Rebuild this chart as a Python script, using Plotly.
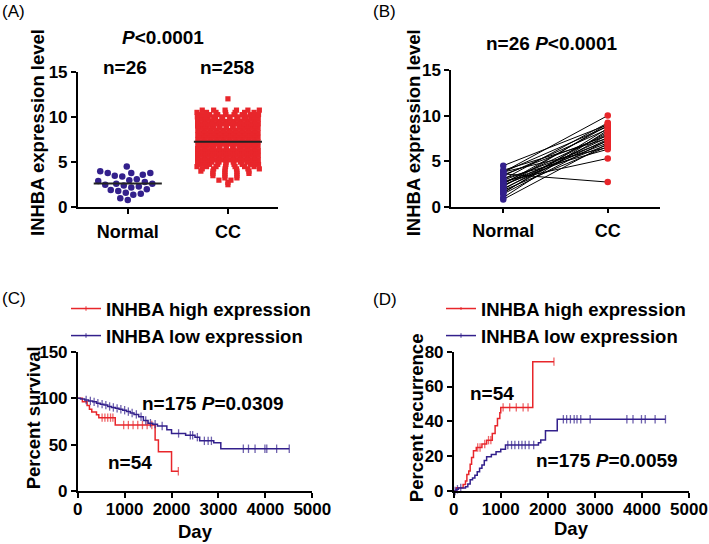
import numpy as np
import plotly.graph_objects as go

W, H = 709, 544
FONT = "Liberation Sans"
RED = "#E8262B"
PURPLE = "#33208C"

# ---------------- data ----------------
categories = ["Normal", "CC"]

# Panel A: normal tissue expression (n=26)
normal_a = [4.5, 4.0, 3.8, 3.8, 3.8, 3.6, 3.5, 3.4, 3.1, 3.0, 2.9, 2.8, 2.6,
            2.6, 2.5, 2.4, 2.3, 2.2, 2.0, 1.9, 1.8, 1.6, 1.5, 1.4, 1.0, 0.8]
# Panel A: cervical cancer expression (n=258), read as rows of the scatter column
cc_levels = [2.5, 2.75, 3.0, 3.25, 3.5, 3.75, 4.0, 4.25, 4.5, 4.75,
             5.0, 5.25, 5.5, 5.75, 6.0, 6.25, 6.5,
             6.75, 7.0, 7.25, 7.5, 7.75,
             8.0, 8.25, 8.5, 8.75, 9.0,
             9.25, 9.5, 9.75, 10.0, 10.25, 10.5, 10.75, 12.0]
cc_counts = [1, 1, 2, 2, 3, 4, 5, 6, 7, 8,
             9, 9, 9, 9, 9, 9, 9,
             10, 10, 10, 10, 10,
             10, 10, 10, 10, 9,
             9, 9, 9, 8, 8, 7, 6, 1]
cc_a = [lv for lv, n in zip(cc_levels, cc_counts) for _ in range(n)]

# Panel B: paired samples (n=26)
paired_normal = [4.5, 4.0, 3.8, 3.8, 3.8, 3.6, 3.5, 3.4, 3.1, 3.0, 2.9, 2.8, 2.6,
                 2.6, 2.5, 2.4, 2.3, 2.2, 2.0, 1.9, 1.8, 1.6, 1.5, 1.4, 1.0, 0.8]
paired_cc = [9.0, 7.5, 8.8, 10.0, 6.5, 2.7, 7.8, 8.5, 6.3, 9.2, 7.2, 5.3, 8.0,
             7.0, 8.9, 6.8, 7.6, 9.1, 7.4, 8.2, 6.6, 7.9, 8.6, 7.3, 8.4, 6.9]

# Panel C: overall survival (Kaplan-Meier)
c_high_t = [0, 100, 200, 250, 300, 400, 450, 800, 1650, 1720, 2000]
c_high_s = [100, 96, 92, 88, 85, 82, 79, 71, 55, 42.3, 21.2]
c_high_cens = [520, 580, 640, 700, 750, 980, 1080, 1180, 1280, 1380, 1480, 1580, 2145]
c_low_t = [0, 60, 150, 230, 320, 400, 480, 560, 640, 720, 800, 880, 960, 1040,
           1120, 1200, 1300, 1400, 1500, 1600, 1700, 1900, 2000, 2300, 2500,
           2600, 2900, 3050]
c_low_s = [100, 99, 98, 97, 96, 94.5, 93.5, 92.5, 91, 90, 89, 88, 87, 85.5,
           84, 82.5, 80, 76, 73, 72, 70, 66, 62, 60, 58, 54, 52, 45.5]
c_low_cens = [180, 270, 350, 430, 520, 600, 680, 760, 840, 920, 1000, 1080,
              1160, 1250, 1350, 1450, 1550, 1650, 1800, 2150, 2400, 2450, 2550,
              2700, 2780, 2850, 3530, 3640, 3780, 3990, 4030, 4240, 4509]

# Panel D: recurrence (cumulative)
d_high_t = [0, 60, 200, 250, 280, 320, 350, 380, 420, 480, 600, 700, 820, 880,
            930, 980, 1000, 1680]
d_high_v = [0, 1.9, 3.8, 5.7, 9.5, 11.5, 15.4, 19.2, 23.1, 25, 27, 29.2, 33,
            37.5, 41.7, 45, 48, 74.3]
d_high_cens = [510, 560, 660, 740, 790, 1050, 1190, 1330, 1475, 1580, 2130]
d_low_t = [0, 50, 100, 250, 300, 350, 400, 450, 500, 550, 600, 650, 700, 800,
           900, 1000, 1100, 1800, 1850, 1950, 2200]
d_low_v = [0, 1, 1.7, 2.5, 4, 6.5, 7.5, 9, 11, 13, 15, 17.5, 19.7, 21, 22.6,
           24, 26.4, 27.7, 29.3, 34.6, 41.2]
d_low_cens = [30, 80, 150, 1150, 1230, 1300, 1380, 1450, 1520, 1600, 1700,
              2330, 2400, 2480, 2560, 2620, 2700, 2900, 3680, 3810, 3990, 4070,
              4280, 4500]


# ---------------- helpers ----------------
def swarm(values, center, d_px, px_per_x, px_per_y):
    vals = np.asarray(values, float)
    order = np.argsort(vals, kind="stable")
    placed = []
    offs = np.zeros(len(vals))
    for j, i in enumerate(order):
        y = vals[i] * px_per_y
        best = None
        k = 0
        while best is None:
            signs = [1] if k == 0 else ([1, -1] if j % 2 == 0 else [-1, 1])
            for sg in signs:
                x = sg * k * 0.5
                ok = True
                for (px, py) in placed:
                    if abs(py - y) < d_px and (px - x) ** 2 + (py - y) ** 2 < d_px ** 2:
                        ok = False
                        break
                if ok:
                    best = x
                    break
            k += 1
        placed.append((best, y))
        offs[i] = best / px_per_x
    return center + offs


def row_layout(levels, counts, center, width_px, max_step_px, px_per_x):
    xs = []
    for r, n in enumerate(counts):
        if n == 1:
            xs.append(center)
            continue
        step = min(width_px / (n - 1), max_step_px)
        shift = step / 4 if r % 2 else -step / 4
        for i in range(n):
            off = (i - (n - 1) / 2) * step + shift
            xs.append(center + off / px_per_x)
    return xs


def km_trace(times, vals, cens, color, name, xa, ya, legend, showlegend=True):
    pts = {}
    for t, v in zip(times, vals):
        pts[t] = (v, 0)
    for c in cens:
        idx = max(i for i, t in enumerate(times) if t <= c)
        pts[c] = (vals[idx], 6)
    ts = sorted(pts)
    return go.Scatter(
        x=ts, y=[pts[t][0] for t in ts], mode="lines+markers",
        line=dict(color=color, width=1.5, shape="hv"),
        marker=dict(symbol="line-ns", size=[pts[t][1] for t in ts],
                    line=dict(color=color, width=1.3), color=color),
        name=name, xaxis=xa, yaxis=ya, legend=legend, showlegend=showlegend,
        cliponaxis=False)


def px_x(p):
    return p / W


def px_y(p):
    return 1 - p / H


fig = go.Figure()

# ---------------- Panel A ----------------
xA = {"Normal": 0, "CC": 1}
nx = swarm(normal_a, xA["Normal"], 7.5, 100.0, 9.04)
cx = row_layout(cc_levels, cc_counts, xA["CC"], 57.0, 12.0, 100.0)
fig.add_trace(go.Scatter(x=nx, y=normal_a, mode="markers",
                         marker=dict(color=PURPLE, size=6.5, symbol="circle"),
                         xaxis="x", yaxis="y", showlegend=False, cliponaxis=False))
fig.add_trace(go.Scatter(x=cx, y=cc_a, mode="markers",
                         marker=dict(color=RED, size=5.2, symbol="square"),
                         xaxis="x", yaxis="y", showlegend=False, cliponaxis=False))
for cat, vals in (("Normal", normal_a), ("CC", cc_a)):
    m = float(np.mean(vals))
    fig.add_trace(go.Scatter(x=[xA[cat] - 0.34, xA[cat] + 0.34], y=[m, m],
                             mode="lines", line=dict(color="#222222", width=2),
                             xaxis="x", yaxis="y", showlegend=False))

# ---------------- Panel B ----------------
lx, ly = [], []
for a, b in zip(paired_normal, paired_cc):
    lx += [0, 1, None]
    ly += [a, b, None]
fig.add_trace(go.Scatter(x=lx, y=ly, mode="lines", line=dict(color="black", width=1),
                         xaxis="x2", yaxis="y2", showlegend=False))
fig.add_trace(go.Scatter(x=[0] * len(paired_normal), y=paired_normal, mode="markers",
                         marker=dict(color=PURPLE, size=6.5), xaxis="x2", yaxis="y2",
                         showlegend=False, cliponaxis=False))
fig.add_trace(go.Scatter(x=[1] * len(paired_cc), y=paired_cc, mode="markers",
                         marker=dict(color=RED, size=6.5), xaxis="x2", yaxis="y2",
                         showlegend=False, cliponaxis=False))

# ---------------- Panel C ----------------
fig.add_trace(km_trace(c_high_t, c_high_s, c_high_cens, RED, "INHBA high expression",
                       "x3", "y3", "legend"))
fig.add_trace(km_trace(c_low_t, c_low_s, c_low_cens, PURPLE, "INHBA low expression",
                       "x3", "y3", "legend"))

# ---------------- Panel D ----------------
fig.add_trace(km_trace(d_high_t, d_high_v, d_high_cens, RED, "INHBA high expression",
                       "x4", "y4", "legend2"))
fig.add_trace(km_trace(d_low_t, d_low_v, d_low_cens, PURPLE, "INHBA low expression",
                       "x4", "y4", "legend2"))

# ---------------- axes ----------------
tickfont = dict(family=FONT, size=17, color="black", weight="bold")
catfont = dict(family=FONT, size=18, color="black", weight="bold")
titlefont = dict(family=FONT, size=18.5, color="black", weight="bold")
common = dict(showline=True, linecolor="black", linewidth=1.5, ticks="outside",
              ticklen=5, tickwidth=1.5, tickcolor="black", showgrid=False,
              zeroline=False, fixedrange=True, automargin=False)

layout_axes = dict(
    xaxis=dict(domain=[px_x(77.7), px_x(278)], range=[-0.5, 1.5], anchor="y",
               tickvals=[xA[c] for c in categories], ticktext=categories,
               tickfont=catfont, ticklabelstandoff=2, **common),
    yaxis=dict(domain=[px_y(207.3), px_y(71.7)], range=[0, 15], anchor="x",
               tickvals=[0, 5, 10, 15], tickfont=tickfont, **common),
    xaxis2=dict(domain=[px_x(451), px_x(660)], range=[-0.5, 1.5], anchor="y2",
                tickvals=[xA[c] for c in categories], ticktext=categories,
                tickfont=catfont, ticklabelstandoff=2, **common),
    yaxis2=dict(domain=[px_y(206.7), px_y(70)], range=[0, 15], anchor="x2",
                tickvals=[0, 5, 10, 15], tickfont=tickfont, **common),
    xaxis3=dict(domain=[px_x(77.7), px_x(312.3)], range=[0, 5000], anchor="y3",
                tickvals=[0, 1000, 2000, 3000, 4000, 5000], tickfont=tickfont,
                ticklabelstandoff=-3, **common),
    yaxis3=dict(domain=[px_y(491), px_y(351.7)], range=[0, 150], anchor="x3",
                tickvals=[0, 50, 100, 150], tickfont=tickfont, **common),
    xaxis4=dict(domain=[px_x(453.7), px_x(689)], range=[0, 5000], anchor="y4",
                tickvals=[0, 1000, 2000, 3000, 4000, 5000], tickfont=tickfont,
                ticklabelstandoff=-3, **common),
    yaxis4=dict(domain=[px_y(491), px_y(351.7)], range=[0, 80], anchor="x4",
                tickvals=[0, 20, 40, 60, 80], tickfont=tickfont, **common),
)

legfont = dict(family=FONT, size=18.5, color="black", weight="bold")
ann_font = dict(family=FONT, size=19, color="black")
lab_font = dict(family=FONT, size=17, color="black")


def ann(text, x, y, xref="paper", yref="paper", font=ann_font, xanchor="center",
        yanchor="middle", angle=0):
    if xref == "paper":
        x = px_x(x)
    if yref == "paper":
        y = px_y(y)
    return dict(text=text, x=x, y=y, xref=xref, yref=yref, showarrow=False,
                font=font, xanchor=xanchor, yanchor=yanchor, textangle=angle)


annotations = [
    ann("(A)", 0, 11, font=lab_font, xanchor="left"),
    ann("(B)", 371, 11, font=lab_font, xanchor="left"),
    ann("(C)", 0, 298, font=lab_font, xanchor="left"),
    ann("(D)", 371, 299, font=lab_font, xanchor="left"),
    # axis titles
    ann("<b>INHBA expression level</b>", 37, 133, font=titlefont, angle=-90),
    ann("<b>INHBA expression level</b>", 413.3, 133, font=titlefont, angle=-90),
    ann("<b>Percent survival</b>", 33, 418.3, font=titlefont, angle=-90),
    ann("<b>Percent recurrence</b>", 416.7, 417.5, font=titlefont, angle=-90),
    ann("<b>Day</b>", 195, 531, font=titlefont),
    ann("<b>Day</b>", 571.7, 528, font=titlefont),
    # statistics
    ann("<b><i>P</i>&lt;0.0001</b>", 163, 38),
    ann("<b>n=26</b>", 125, 67),
    ann("<b>n=258</b>", 227, 67),
    ann("<b>n=26 <i>P</i>&lt;0.0001</b>", 551.7, 43),
    ann("<b>n=175 <i>P</i>=0.0309</b>", 2877, 94.4, "x3", "y3"),
    ann("<b>n=54</b>", 1114, 31.2, "x3", "y3"),
    ann("<b>n=54</b>", 824, 56.1, "x4", "y4"),
    ann("<b>n=175 <i>P</i>=0.0059</b>", 3268, 17.4, "x4", "y4"),
]

fig.update_layout(
    width=W, height=H, autosize=False,
    margin=dict(l=0, r=0, t=0, b=0, autoexpand=False),
    paper_bgcolor="white", plot_bgcolor="white",
    font=dict(family=FONT, color="black"),
    annotations=annotations,
    legend=dict(x=px_x(66), y=px_y(290), xanchor="left", yanchor="top",
                font=legfont, bgcolor="rgba(0,0,0,0)", itemwidth=30,
                tracegroupgap=0, traceorder="normal"),
    legend2=dict(x=px_x(441), y=px_y(290), xanchor="left", yanchor="top",
                 font=legfont, bgcolor="rgba(0,0,0,0)", itemwidth=30,
                 tracegroupgap=0, traceorder="normal"),
    **layout_axes,
)

fig.write_html(
    "out.html",
    config={"displayModeBar": False},
    post_script="document.body.style.margin='0';document.body.style.padding='0';",
)
